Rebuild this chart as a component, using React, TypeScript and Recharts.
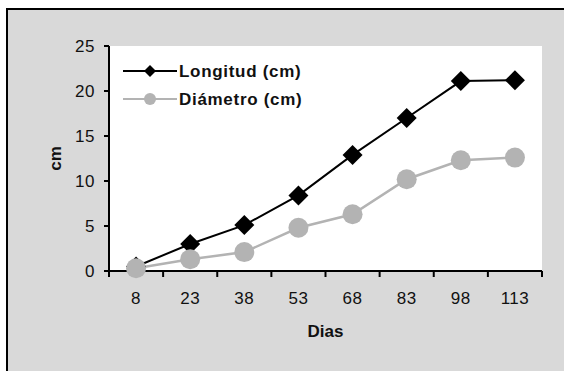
import React from 'react';
import { LineChart, Line, XAxis, YAxis, CartesianGrid } from 'recharts';

const DAYS = ['8', '23', '38', '53', '68', '83', '98', '113'];
const LONGITUD = [0.5, 3.0, 5.1, 8.4, 12.9, 17.0, 21.1, 21.2];
const DIAMETRO = [0.3, 1.3, 2.1, 4.8, 6.3, 10.2, 12.3, 12.6];
const Y_TICKS = [0, 5, 10, 15, 20, 25];

const SERIES = [
  { key: 'longitud', name: 'Longitud (cm)', color: '#000000', marker: 'diamond' },
  { key: 'diametro', name: 'Diámetro (cm)', color: '#b3b3b3', marker: 'circle' },
];

const data = DAYS.map((d, i) => ({ dia: d, longitud: LONGITUD[i], diametro: DIAMETRO[i] }));

const W = 556;
const H = 361;
const Y_W = 101;
const X_H = 100;
const RIGHT = 22;
const PLOT_W = W - Y_W - RIGHT;
const HALF = PLOT_W / DAYS.length / 2;
const FONT = '"Liberation Sans", Arial, sans-serif';
const INK = '#111';
const FS = 17;

const Diamond = ({ cx, cy, r, fill }: any) => (
  <path d={`M${cx},${cy - r}L${cx + r},${cy}L${cx},${cy + r}L${cx - r},${cy}Z`} fill={fill} />
);

const DayTick = (props: any) => {
  const { x, index, payload } = props;
  const axisY = H - X_H;
  return (
    <g>
      <line x1={x - HALF} y1={axisY} x2={x - HALF} y2={axisY + 6} stroke="#000" strokeWidth={2} />
      {index === DAYS.length - 1 && (
        <line x1={x + HALF} y1={axisY} x2={x + HALF} y2={axisY + 6} stroke="#000" strokeWidth={2} />
      )}
      <text x={x} y={axisY + 33} textAnchor="middle" fontSize={FS} fill={INK} fontFamily={FONT} letterSpacing={0.5}>
        {payload.value}
      </text>
    </g>
  );
};

const DiasLabel = ({ viewBox }: any) => (
  <text x={viewBox.x + viewBox.width / 2} y={viewBox.y + 66} textAnchor="middle" fontSize={FS} fontWeight="bold" fill={INK} fontFamily={FONT}>
    Dias
  </text>
);

const CmLabel = ({ viewBox }: any) => {
  const x = 47;
  const y = viewBox.y + viewBox.height / 2;
  return (
    <text x={x} y={y} transform={`rotate(-90, ${x}, ${y})`} textAnchor="middle" dominantBaseline="central" fontSize={FS} fontWeight="bold" fill={INK} fontFamily={FONT}>
      cm
    </text>
  );
};

const ChartLegend = () => (
  <svg width={280} height={60} style={{ position: 'absolute', left: 110, top: 46 }}>
    {SERIES.map((s, i) => {
      const y = 15 + i * 28;
      return (
        <g key={s.key}>
          <line x1={5} y1={y} x2={59} y2={y} stroke={s.color} strokeWidth={2} />
          {s.marker === 'diamond' ? (
            <Diamond cx={32} cy={y} r={6} fill={s.color} />
          ) : (
            <circle cx={32} cy={y} r={6} fill={s.color} />
          )}
          <text x={61} y={y} dominantBaseline="central" fontSize={FS} fontWeight="bold" fill={INK} fontFamily={FONT} letterSpacing={0.7}>
            {s.name}
          </text>
        </g>
      );
    })}
  </svg>
);

export default function App() {
  return (
    <div
      style={{
        position: 'absolute',
        left: 6,
        top: 8,
        width: 556,
        height: 363,
        borderTop: '2px solid #000',
        borderLeft: '2px solid #000',
        background: '#d9d9d9',
        overflow: 'hidden',
      }}
    >
      <div style={{ position: 'relative', width: W, height: H }}>
        <LineChart width={W} height={H} data={data} margin={{ top: 36, right: RIGHT, bottom: 0, left: 0 }}>
          <CartesianGrid horizontal={false} vertical={false} fill="#ffffff" />
          <XAxis
            dataKey="dia"
            height={X_H}
            padding={{ left: HALF, right: HALF }}
            axisLine={{ stroke: '#000', strokeWidth: 2 }}
            tickLine={false}
            tick={<DayTick />}
            interval={0}
            label={<DiasLabel />}
          />
          <XAxis xAxisId="top" orientation="top" dataKey="dia" height={0} tick={false} tickLine={false} axisLine={{ stroke: '#000', strokeWidth: 2 }} />
          <YAxis
            width={Y_W}
            domain={[0, 25]}
            ticks={Y_TICKS}
            interval={0}
            tickSize={5}
            tickMargin={9}
            axisLine={{ stroke: '#000', strokeWidth: 2 }}
            tickLine={{ stroke: '#000', strokeWidth: 2 }}
            tick={{ fontSize: FS, fill: INK, fontFamily: FONT, letterSpacing: 0.5 }}
            label={<CmLabel />}
          />
          <YAxis yAxisId="right" orientation="right" width={0} domain={[0, 25]} tick={false} tickLine={false} axisLine={{ stroke: '#000', strokeWidth: 2 }} />
          <Line
            dataKey="longitud"
            name={SERIES[0].name}
            stroke={SERIES[0].color}
            strokeWidth={2}
            isAnimationActive={false}
            dot={(p: any) => <Diamond key={`d-${p.index}`} cx={p.cx} cy={p.cy} r={10} fill={SERIES[0].color} />}
            activeDot={false}
          />
          <Line
            dataKey="diametro"
            name={SERIES[1].name}
            stroke={SERIES[1].color}
            strokeWidth={2.5}
            isAnimationActive={false}
            dot={(p: any) => <circle key={`c-${p.index}`} cx={p.cx} cy={p.cy} r={10} fill={SERIES[1].color} />}
            activeDot={false}
          />
        </LineChart>
        <ChartLegend />
      </div>
    </div>
  );
}
